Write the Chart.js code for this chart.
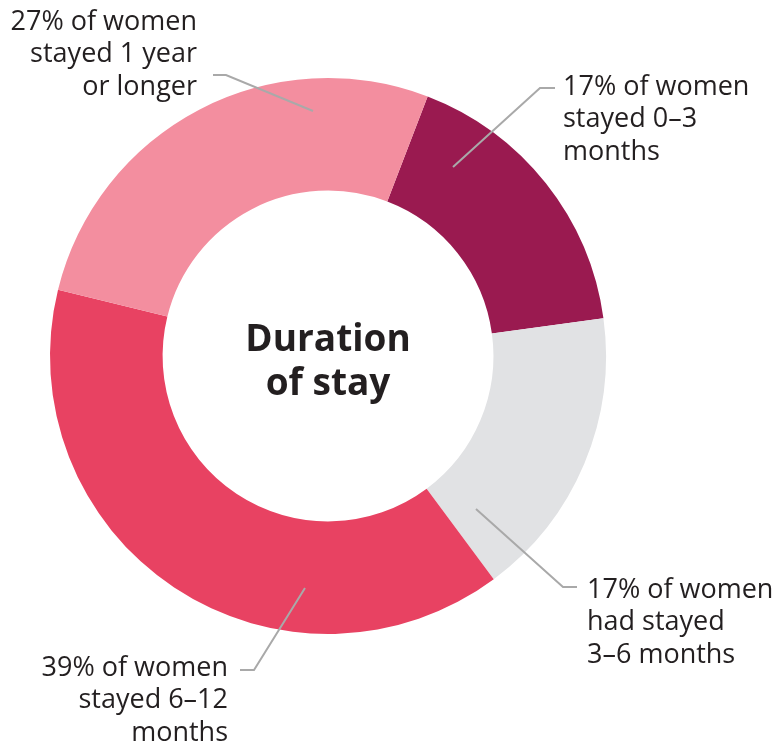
<!DOCTYPE html>
<html>
<head>
<meta charset="utf-8">
<script src="https://cdn.jsdelivr.net/npm/chart.js@4/dist/chart.umd.min.js"></script>
<style>
  html, body { margin: 0; padding: 0; background: #fff; }
  #wrap { width: 772px; height: 745px; }
</style>
</head>
<body>
<div id="wrap"><canvas id="donut"></canvas></div>
<script>
// data, clockwise from the top right
const categories = ['0–3 months', '3–6 months', '6–12 months', '1 year or longer'];
const shares = [17, 17, 39, 27];
const sliceColors = ['#9A1A50', '#E1E2E4', '#E84262', '#F38E9F'];
const labelLines = [
    ['17% of women', 'stayed 0–3', 'months'],
    ['17% of women', 'had stayed', '3–6 months'],
    ['39% of women', 'stayed 6–12', 'months'],
    ['27% of women', 'stayed 1 year', 'or longer']
];
const centerTitle = ['Duration', 'of stay'];

// leader line + label placement, offsets from the donut centre
const callouts = [
    { start: [125, -189], elbow: [212, -268], end: [227, -268], text: [235, -269], align: 'left' },
    { start: [148, 153], elbow: [235, 231], end: [249, 231], text: [259, 234], align: 'left' },
    { start: [-23, 232], elbow: [-74, 314], end: [-88, 314], text: [-100, 312], align: 'right' },
    { start: [-15, -245], elbow: [-102, -281], end: [-115, -281], text: [-131, -334], align: 'right' }
];

const FONT = '"Open Sans", "Noto Sans", sans-serif';

const calloutPlugin = {
    id: 'callouts',
    afterDraw(chart) {
        const ctx = chart.ctx;
        const arc = chart.getDatasetMeta(0).data[0];
        const cx = arc.x, cy = arc.y;

        // centre title
        ctx.save();
        ctx.fillStyle = '#231F20';
        ctx.font = 'bold 37px ' + FONT;
        ctx.textAlign = 'center';
        ctx.textBaseline = 'middle';
        centerTitle.forEach((t, i) => ctx.fillText(t, cx, cy - 16 + i * 44));

        // leader lines and labels
        ctx.font = '27px ' + FONT;
        ctx.textBaseline = 'middle';
        callouts.forEach((c, i) => {
            ctx.strokeStyle = '#A9A9A9';
            ctx.lineWidth = 2;
            ctx.beginPath();
            ctx.moveTo(cx + c.start[0], cy + c.start[1]);
            ctx.lineTo(cx + c.elbow[0], cy + c.elbow[1]);
            ctx.lineTo(cx + c.end[0], cy + c.end[1]);
            ctx.stroke();
            ctx.fillStyle = '#231F20';
            ctx.textAlign = c.align;
            labelLines[i].forEach((t, j) => ctx.fillText(t, cx + c.text[0], cy + c.text[1] + j * 32.5));
        });
        ctx.restore();
    }
};

new Chart(document.getElementById('donut'), {
    type: 'doughnut',
    data: {
        labels: categories,
        datasets: [{
            data: shares,
            backgroundColor: sliceColors,
            borderWidth: 0
        }]
    },
    options: {
        responsive: true,
        maintainAspectRatio: false,
        animation: false,
        rotation: 21,
        cutout: '59.5%',
        layout: { padding: { left: 50, right: 166, top: 78, bottom: 111 } },
        plugins: {
            legend: { display: false },
            tooltip: { enabled: false }
        }
    },
    plugins: [calloutPlugin]
});
</script>
</body>
</html>
